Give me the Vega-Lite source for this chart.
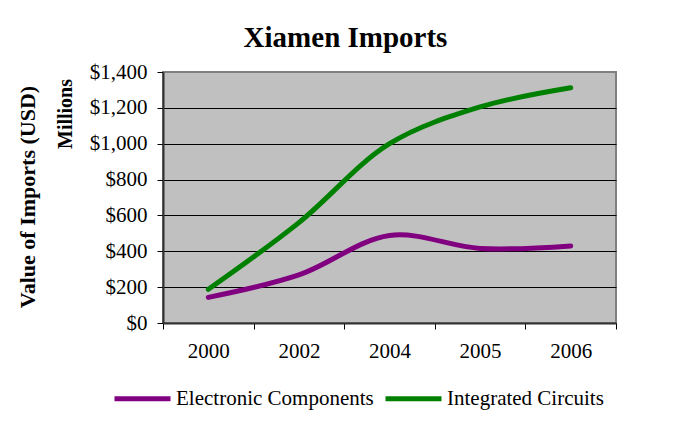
{
  "$schema": "https://vega.github.io/schema/vega-lite/v6.json",
  "autosize": {"type": "none"},
  "padding": {"left": 163, "top": 72, "right": 58, "bottom": 101},
  "width": 453,
  "height": 251,
  "background": "white",
  "config": {
    "font": "Liberation Serif",
    "view": {"fill": "#C0C0C0", "stroke": "#808080", "strokeWidth": 2}
  },
  "title": {
    "text": "Xiamen Imports",
    "font": "Liberation Serif",
    "fontSize": 29,
    "fontWeight": "bold",
    "color": "black",
    "anchor": "middle",
    "frame": "group",
    "baseline": "alphabetic",
    "dx": -44,
    "offset": -15
  },
  "data": {
    "values": [
      {"year": "2000", "series": "Electronic Components", "value": 143},
      {"year": "2002", "series": "Electronic Components", "value": 268},
      {"year": "2004", "series": "Electronic Components", "value": 488},
      {"year": "2005", "series": "Electronic Components", "value": 416},
      {"year": "2006", "series": "Electronic Components", "value": 430},
      {"year": "2000", "series": "Integrated Circuits", "value": 188},
      {"year": "2002", "series": "Integrated Circuits", "value": 560},
      {"year": "2004", "series": "Integrated Circuits", "value": 1000},
      {"year": "2005", "series": "Integrated Circuits", "value": 1205},
      {"year": "2006", "series": "Integrated Circuits", "value": 1312}
    ]
  },
  "encoding": {
    "x": {
      "field": "year",
      "type": "ordinal",
      "bandPosition": 0.5,
      "scale": {"type": "band", "paddingInner": 0, "paddingOuter": 0},
      "axis": {
        "title": null,
        "labelAngle": 0,
        "labelFont": "Liberation Serif",
        "labelFontSize": 21,
        "labelColor": "black",
        "labelPadding": 11,
        "tickBand": "extent",
        "tickSize": 6,
        "tickColor": "black",
        "tickWidth": 1,
        "domainColor": "#303030",
        "domainWidth": 2,
        "grid": false
      }
    },
    "color": {
      "field": "series",
      "type": "nominal",
      "scale": {"domain": ["Electronic Components", "Integrated Circuits"], "range": ["#800080", "#008000"]},
      "legend": {
        "title": null,
        "orient": "none",
        "direction": "horizontal",
        "legendX": -51,
        "legendY": 296,
        "symbolType": "stroke",
        "symbolSize": 3136,
        "symbolStrokeWidth": 5,
        "labelFont": "Liberation Serif",
        "labelFontSize": 21,
        "labelColor": "black",
        "labelOffset": 3,
        "columnPadding": 1,
        "labelLimit": 400
      }
    }
  },
  "layer": [
    {
      "transform": [{"filter": "datum.series == 'Electronic Components'"}],
      "mark": {"type": "line", "interpolate": "catmull-rom", "strokeWidth": 5, "strokeCap": "round"},
      "encoding": {
        "y": {
          "field": "value",
          "type": "quantitative",
          "scale": {"domain": [0, 1400], "nice": false},
          "axis": {
            "values": [0, 200, 400, 600, 800, 1000, 1200, 1400],
            "format": "$,.0f",
            "labelFont": "Liberation Serif",
            "labelFontSize": 21,
            "labelColor": "black",
            "labelPadding": 10,
            "tickSize": 6,
            "tickColor": "black",
            "domainColor": "#303030",
            "domainWidth": 2,
            "grid": true,
            "gridColor": {"condition": {"test": "datum.value == 1400", "value": "#808080"}, "value": "black"},
            "gridWidth": 1,
            "title": "Value of Imports (USD)",
            "titleFont": "Liberation Serif",
            "titleFontSize": 22,
            "titleFontWeight": "bold",
            "titleColor": "black",
            "titleAngle": -90,
            "titleBaseline": "alphabetic",
            "titleAlign": "center",
            "titleX": -129,
            "titleY": 124.5
          }
        }
      }
    },
    {
      "transform": [{"filter": "datum.series == 'Integrated Circuits'"}],
      "mark": {"type": "line", "interpolate": "catmull-rom", "strokeWidth": 5, "strokeCap": "round"},
      "encoding": {
        "y": {
          "field": "value",
          "type": "quantitative",
          "axis": {
            "orient": "left",
            "labels": false,
            "ticks": false,
            "domain": false,
            "grid": false,
            "title": "Millions",
            "titleFont": "Liberation Serif",
            "titleFontSize": 20,
            "titleFontWeight": "bold",
            "titleColor": "black",
            "titleAngle": -90,
            "titleBaseline": "alphabetic",
            "titleAlign": "center",
            "titleX": -92,
            "titleY": 41.5
          }
        }
      }
    }
  ],
  "resolve": {"axis": {"y": "independent"}}
}
